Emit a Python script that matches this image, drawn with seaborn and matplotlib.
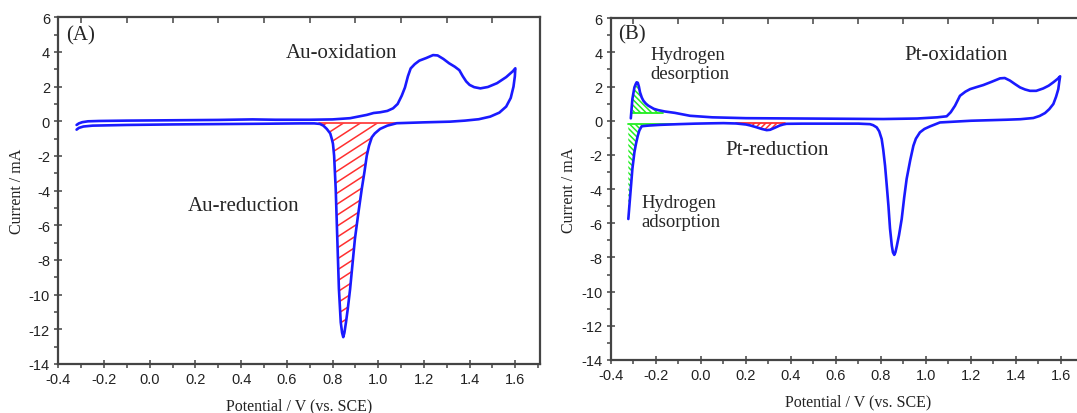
import numpy as np
import pandas as pd
import matplotlib
matplotlib.use("Agg")
import matplotlib.pyplot as plt
from matplotlib.ticker import MultipleLocator
import seaborn as sns

# ---------------- Panel A (Au) : anodic sweep then cathodic sweep ----------------
a_pot = [-0.32, -0.31, -0.295, -0.27, -0.22, -0.10, 0.10, 0.30, 0.45, 0.55, 0.70, 0.80, 0.877, 0.95,
         0.98, 1.008, 1.04, 1.065, 1.085, 1.103, 1.117, 1.13, 1.142, 1.16, 1.18, 1.21, 1.24, 1.26, 1.285,
         1.31, 1.335, 1.355, 1.37, 1.385, 1.40, 1.42, 1.447, 1.48, 1.52, 1.56, 1.59, 1.60,
         1.598, 1.592, 1.58, 1.56, 1.53, 1.49, 1.44, 1.38, 1.314, 1.20, 1.081, 1.04, 1.008, 0.985, 0.972,
         0.96, 0.95, 0.94, 0.928, 0.913, 0.898, 0.887, 0.877, 0.867, 0.859, 0.852, 0.847, 0.842, 0.836,
         0.828, 0.821, 0.814, 0.807, 0.802, 0.797, 0.79, 0.775, 0.76, 0.745, 0.72, 0.658, 0.50, 0.30,
         0.10, -0.10, -0.25, -0.29, -0.31, -0.32]
a_cur = [-0.21, -0.12, -0.05, 0.00, 0.02, 0.04, 0.06, 0.08, 0.11, 0.09, 0.09, 0.11, 0.18, 0.37,
         0.48, 0.52, 0.60, 0.75, 1.00, 1.48, 1.95, 2.60, 3.05, 3.30, 3.50, 3.65, 3.82, 3.80, 3.60,
         3.35, 3.15, 2.95, 2.60, 2.30, 2.10, 1.97, 1.90, 1.98, 2.20, 2.55, 2.90, 3.06,
         2.60, 2.00, 1.35, 0.85, 0.50, 0.27, 0.12, 0.04, -0.02, -0.06, -0.11, -0.25, -0.44, -0.70, -0.92,
         -1.40, -1.98, -2.90, -3.90, -5.30, -6.79, -8.30, -9.67, -10.80, -11.59, -12.20, -12.45, -12.20, -11.59,
         -9.67, -6.79, -3.90, -1.98, -1.30, -1.02, -0.70, -0.44, -0.25, -0.15, -0.12, -0.12, -0.14, -0.16,
         -0.18, -0.21, -0.25, -0.30, -0.38, -0.48]

# ---------------- Panel B (Pt) ----------------
b_pot = [-0.312, -0.305, -0.296, -0.29, -0.286, -0.281, -0.276, -0.271, -0.263, -0.256, -0.245, -0.234,
         -0.21, -0.19, -0.16, -0.116, -0.049, 0.05, 0.20, 0.58, 0.809, 0.961, 1.05, 1.092, 1.11, 1.129,
         1.151, 1.175, 1.196, 1.225, 1.255, 1.29, 1.329, 1.35, 1.373, 1.395, 1.418, 1.44, 1.462, 1.49,
         1.521, 1.545, 1.566, 1.585, 1.596,
         1.592, 1.588, 1.578, 1.566, 1.548, 1.529, 1.505, 1.477, 1.42, 1.359, 1.20, 1.062, 1.018, 0.993,
         0.973, 0.955, 0.944, 0.93, 0.914, 0.903, 0.892, 0.88, 0.87, 0.864, 0.859, 0.853, 0.848, 0.84,
         0.833, 0.825, 0.818, 0.81, 0.803, 0.792, 0.781, 0.765, 0.751, 0.70, 0.618, 0.45, 0.38, 0.365,
         0.35, 0.33, 0.307, 0.292, 0.27, 0.246, 0.22, 0.20, 0.156, 0.10, 0.049, -0.027, -0.10, -0.18,
         -0.23, -0.255, -0.264, -0.274, -0.281, -0.289, -0.296, -0.305, -0.311, -0.317, -0.323]
b_cur = [0.14, 1.27, 1.95, 2.15, 2.25, 2.22, 2.00, 1.66, 1.35, 1.17, 1.00, 0.88,
         0.70, 0.62, 0.54, 0.46, 0.29, 0.20, 0.15, 0.12, 0.10, 0.13, 0.20, 0.26, 0.50, 0.88,
         1.46, 1.70, 1.85, 1.97, 2.09, 2.27, 2.48, 2.50, 2.35, 2.15, 1.95, 1.83, 1.75, 1.75,
         1.89, 2.05, 2.25, 2.45, 2.60,
         2.25, 1.85, 1.40, 0.98, 0.68, 0.45, 0.28, 0.16, 0.09, 0.06, 0.00, -0.10, -0.33, -0.48,
         -0.68, -1.05, -1.46, -2.30, -3.40, -4.50, -5.75, -6.70, -7.35, -7.70, -7.85, -7.70, -7.31, -6.30,
         -4.97, -3.70, -2.63, -1.70, -1.07, -0.62, -0.39, -0.26, -0.20, -0.17, -0.17, -0.17, -0.18, -0.22,
         -0.28, -0.40, -0.53, -0.55, -0.48, -0.38, -0.28, -0.22, -0.16, -0.14, -0.15, -0.17, -0.20, -0.24,
         -0.28, -0.31, -0.33, -0.57, -0.88, -1.35, -1.85, -2.82, -3.80, -4.77, -5.75]

x_ticks = [-0.4, -0.2, 0.0, 0.2, 0.4, 0.6, 0.8, 1.0, 1.2, 1.4, 1.6]
top_ticks = [-0.3, -0.1, 0.1, 0.3, 0.5, 0.7, 0.9, 1.1, 1.3, 1.5]
y_ticks = [6, 4, 2, 0, -2, -4, -6, -8, -10, -12, -14]

sns.set_style("ticks")
plt.rcParams['font.family'] = ['Liberation Sans', 'DejaVu Sans']
plt.rcParams['hatch.linewidth'] = 1.1
serif = ['Liberation Serif', 'DejaVu Serif']

fig = plt.figure(figsize=(10.77, 4.14), dpi=100)
W, H = 1077, 414
axA = fig.add_axes([58.3 / W, 1 - 365 / H, (540 - 58.3) / W, (365 - 18.3) / H])
axB = fig.add_axes([611 / W, 1 - 361 / H, 495 / W, (361 - 19.2) / H])

blue = "#1a1aff"
spine_c = "#444444"
dfA = pd.DataFrame({"pot": a_pot, "cur": a_cur})
dfB = pd.DataFrame({"pot": b_pot, "cur": b_cur})


def labels(ax):
    ax.set_xlabel("Potential / V (vs. SCE)", family=serif, fontsize=11.5, labelpad=8, color="#222222")
    ax.set_ylabel("Current / mA", family=serif, fontsize=11.5, labelpad=3, color="#222222")


def style(ax, xmax, right=True):
    ax.set_xlim(-0.4, xmax)
    ax.set_ylim(-14, 6)
    ax.set_xticks(x_ticks)
    ax.set_yticks(y_ticks)
    ax.set_xticklabels([f"{v:.1f}" for v in x_ticks])
    ax.set_yticklabels([f"{v:d}" for v in y_ticks])
    ax.xaxis.set_minor_locator(MultipleLocator(0.1))
    ax.yaxis.set_minor_locator(MultipleLocator(1))
    ax.tick_params(which="major", direction="inout", length=6, width=1.1, color=spine_c,
                   labelsize=10.5, pad=3, top=False, right=False, labelcolor="#222222")
    ax.tick_params(which="minor", direction="out", length=3, width=1.1, color=spine_c,
                   top=False, right=False)
    for s in ax.spines.values():
        s.set_visible(True)
        s.set_color(spine_c)
        s.set_linewidth(1.6)
    ax.spines["right"].set_visible(right)
    sec = ax.secondary_xaxis("top")
    sec.set_xticks(top_ticks)
    sec.tick_params(direction="in", length=4, width=1.1, color=spine_c, labeltop=False)
    sec.spines["top"].set_visible(False)


def region(df, x0, x1):
    seg = df[(df.pot >= x0) & (df.pot <= x1)].sort_values("pot")
    return np.array(seg.pot), np.array(seg.cur)


def hatch_region(ax, df, x0, x1, base, color, hatch):
    xs, ys = region(df, x0, x1)
    ax.fill_between(xs, ys, base, facecolor="none", edgecolor=color, hatch=hatch,
                    linewidth=0, zorder=1)
    ax.plot([x0, x1], [base, base], color=color, lw=1.3, zorder=1.5)


def slanted_hatch(ax, df, x0, x1, base, color, px_x, px_y, angle=33, spacing_px=11):
    xs, ys = region(df, x0, x1)
    poly = ax.fill_between(xs, ys, base, facecolor="none", edgecolor="none", zorder=1)
    slope = np.tan(np.radians(angle)) * px_x / px_y
    step = spacing_px / px_y
    ymin = min(ys) - 2
    xx = np.array([x0 - 0.1, x1 + 0.1])
    c = base + 1.0
    while c > ymin - slope * (x1 - x0) - 2:
        ln, = ax.plot(xx, c + slope * (xx - x0), color=color, lw=1.1, zorder=1)
        ln.set_clip_path(poly.get_paths()[0], poly.get_transform())
        c -= step
    ax.plot([x0, x1], [base, base], color=color, lw=1.2, zorder=1.5)


# Panel A
style(axA, 1.708)
cathA = dfA.iloc[42:].reset_index(drop=True)
slanted_hatch(axA, cathA, 0.74, 1.08, -0.12, "#ff3030", 228.5, 17.34)
sns.lineplot(data=dfA, x="pot", y="cur", sort=False, estimator=None, color=blue, lw=1.9, ax=axA, zorder=3)
labels(axA)
axA.text(-0.365, 4.98, "(A)", family=serif, fontsize=15, va="center", ha="left")
axA.text(0.597, 3.98, "Au-oxidation", family=serif, fontsize=15, va="center", ha="left")
axA.text(0.165, -4.87, "Au-reduction", family=serif, fontsize=15, va="center", ha="left")

# Panel B
style(axB, 1.8, right=False)
anodB = dfB.iloc[:45].reset_index(drop=True)
cathB = dfB.iloc[44:].reset_index(drop=True)
green = "#22ee22"
hatch_region(axB, anodB, -0.305, -0.168, 0.43, green, "\\\\\\\\\\\\")
hatch_region(axB, cathB.iloc[-16:], -0.323, -0.049, -0.21, green, "\\\\\\\\\\\\")
hatch_region(axB, cathB.iloc[35:55], 0.156, 0.373, -0.12, "#ff3030", "//////")
sns.lineplot(data=dfB, x="pot", y="cur", sort=False, estimator=None, color=blue, lw=1.9, ax=axB, zorder=3)
labels(axB)
axB.text(-0.37, 5.08, "(B)", family=serif, fontsize=15, va="center", ha="left")
axB.text(-0.225, 3.32, "Hydrogen\ndesorption", family=serif, fontsize=13.5, va="center", ha="left",
         linespacing=1.2)
axB.text(0.903, 3.85, "Pt-oxidation", family=serif, fontsize=15, va="center", ha="left")
axB.text(0.11, -1.67, "Pt-reduction", family=serif, fontsize=15, va="center", ha="left")
axB.text(-0.266, -5.35, "Hydrogen\nadsorption", family=serif, fontsize=13.5, va="center", ha="left",
         linespacing=1.2)

fig.savefig("out.png", dpi=100)
